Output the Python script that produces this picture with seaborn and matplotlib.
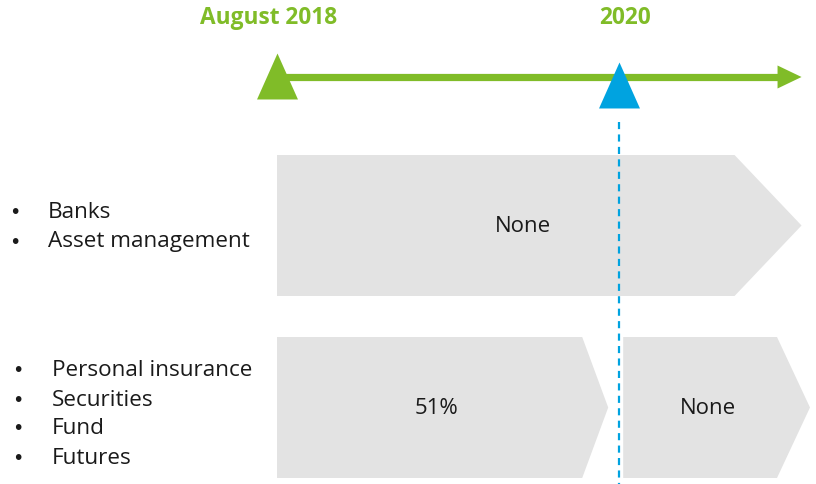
import matplotlib
matplotlib.use("Agg")
import matplotlib.pyplot as plt
import seaborn as sns
import numpy as np

# ==========================================
# DATA
# ==========================================
milestone_labels = ["August 2018", "2020"]
milestone_years = [2018.583, 2020.0]
timeline_end = 2020.755

row_groups = [
    ["Banks", "Asset management"],
    ["Personal insurance", "Securities", "Fund", "Futures"],
]
# each row: list of (start, end, label) in years
row_stages = [
    [(2018.583, 2020.755, "None")],
    [(2018.583, 2020.0, "51%"), (2020.0, 2020.79, "None")],
]

# ==========================================
# STYLE / LAYOUT
# ==========================================
GREEN = "#80BC28"
BLUE = "#00A3E0"
GREY = "#E3E3E3"
TEXT = "#1A1A1A"

W, H = 816, 484
PX_PER_YEAR = 241.5
X0_PX = 277  # pixel position of the first milestone
YEAR_PER_PX = 1 / PX_PER_YEAR

sns.set_theme(style="white")
plt.rcParams["font.family"] = ["Open Sans", "DejaVu Sans"]

fig = plt.figure(figsize=(W / 100, H / 100), dpi=100)
ax = fig.add_axes([0, 0, 1, 1])
ax.set_xlim(milestone_years[0] - X0_PX * YEAR_PER_PX,
            milestone_years[0] + (W - X0_PX) * YEAR_PER_PX)
ax.set_ylim(H, 0)
ax.set_axis_off()


def px(n):
    return n * YEAR_PER_PX


# timeline arrow
LINE_Y = 77
ax.plot([milestone_years[0], timeline_end - px(24)], [LINE_Y, LINE_Y],
        color=GREEN, lw=5.2, solid_capstyle="butt", zorder=2)
ax.fill([timeline_end - px(24), timeline_end, timeline_end - px(24)],
        [LINE_Y - 11.5, LINE_Y, LINE_Y + 11.5], color=GREEN, lw=0, zorder=2)

# milestone triangles
tri = [(0, 1), (-0.891, -1), (0.891, -1)]
tri_y = [76, 85]
tri_col = [GREEN, BLUE]
for yr, ty, c in zip(milestone_years, tri_y, tri_col):
    sns.scatterplot(x=[yr], y=[ty], marker=tri, s=33.1 ** 2, color=c,
                    linewidth=0, ax=ax, zorder=3, legend=False)

# milestone titles
title_dx = [-8, 6]
for lab, yr, dx in zip(milestone_labels, milestone_years, title_dx):
    ax.text(yr + px(dx), 18, lab, color=GREEN, fontsize=16.3, fontweight="bold",
            ha="center", va="center")

# dashed line at 2020
ax.plot([milestone_years[1], milestone_years[1]], [122, H], color=BLUE, lw=1.6,
        linestyle=(0, (3.2, 2.4)), zorder=1)

# rows of chevrons
row_top = [155, 337]
row_h = [141, 141]
tip_depth = [[67], [26, 33]]
gap_px = [[0, 0], [(0, -11), (4, 0)]]
for r, stages in enumerate(row_stages):
    top = row_top[r]
    bot = top + row_h[r]
    mid = (top + bot) / 2
    for s, (x0, x1, lab) in enumerate(stages):
        if r == 1:
            x0 = x0 + px(gap_px[r][s][0])
            x1 = x1 + px(gap_px[r][s][1])
        d = px(tip_depth[r][s])
        ax.fill([x0, x1 - d, x1, x1 - d, x0], [top, top, mid, bot, bot],
                color=GREY, lw=0, zorder=0)
        ax.text((x0 + x1 - d / 2) / 2, mid + 1, lab, color=TEXT, fontsize=16,
                ha="center", va="center")

# bullet lists
bullet_x = [15, 18]
text_x = [48, 52]
first_y = [213, 371]
line_gap = 29
for r, items in enumerate(row_groups):
    for i, item in enumerate(items):
        y = first_y[r] + i * line_gap
        ax.text(ax.get_xlim()[0] + px(bullet_x[r]), y, "\u2022", color=TEXT,
                fontsize=14, ha="center", va="center", family=["DejaVu Sans"])
        ax.text(ax.get_xlim()[0] + px(text_x[r]), y, item, color=TEXT,
                fontsize=16.2, ha="left", va="center")

fig.savefig("out.png", dpi=100)
plt.close(fig)
